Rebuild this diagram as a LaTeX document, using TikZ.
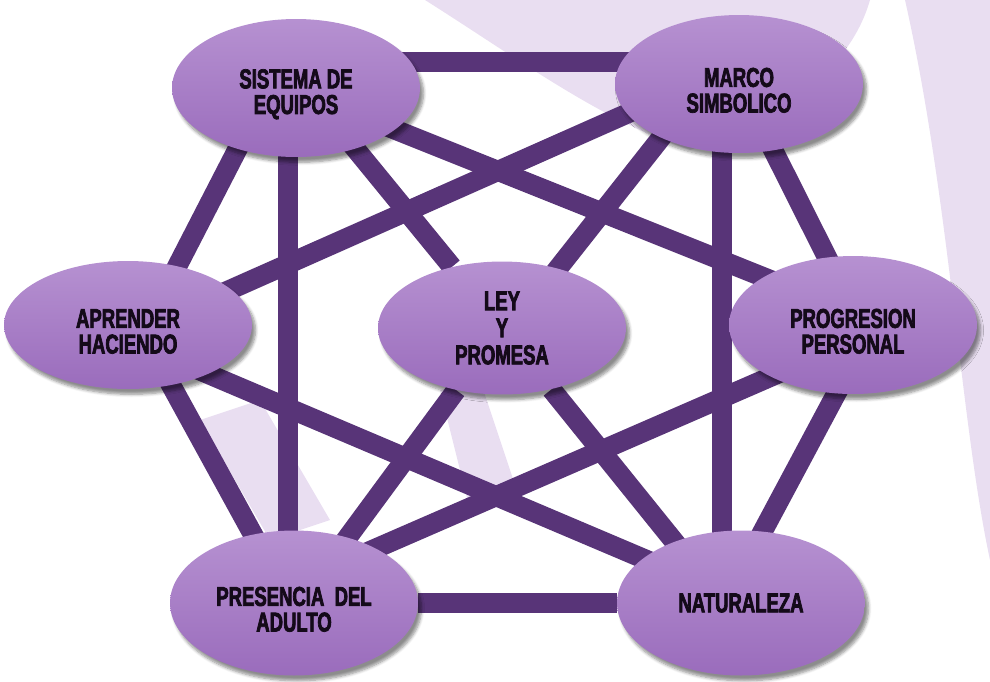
\documentclass[tikz,border=0pt]{standalone}
\usepackage{fontspec}
\newfontfamily\lblfont[FakeStretch=0.68, FakeBold=2.6]{Liberation Sans}
\usetikzlibrary{calc,shapes.geometric,shadows.blur}
\definecolor{lilaclaro}{RGB}{182,145,209}
\definecolor{lilacoscuro}{RGB}{154,108,188}
\definecolor{morado}{RGB}{88,52,120}
\definecolor{marca}{RGB}{233,222,241}
\definecolor{tinta}{RGB}{20,10,25}
\newcommand{\alto}{\rule{0pt}{18pt}}
\pgfdeclarelayer{background}
\pgfsetlayers{background,main}
\tikzset{
  eje/.style={ellipse, inner sep=0pt, minimum width=4.96cm, minimum height=2.76cm,
    top color=lilaclaro, bottom color=lilacoscuro, text=tinta,
    blur shadow={shadow xshift=2pt, shadow yshift=-3pt, shadow blur steps=6, shadow opacity=45},
    font=\lblfont\bfseries\fontsize{15.5}{14.6}\selectfont, align=center},
  enlace/.style={morado, line width=0.4cm},
}

\begin{document}
\begin{tikzpicture}[x=0.02cm, y=-0.02cm]
  \useasboundingbox (0,0) rectangle (990,681);
  % ---------------------------------------------------------------- the seven elements
  \node[eje] (sis) at (296,88) {\alto SISTEMA DE\\EQUIPOS};
  \node[eje] (mar) at (739,84) {\alto MARCO\\SIMBOLICO};
  \node[eje, minimum height=2.56cm] (apr) at (128,325) {\alto APRENDER\\HACIENDO};
  \node[eje, minimum height=2.66cm, font=\lblfont\bfseries\fontsize{15.5}{15.4}\selectfont] (ley) at (502,328) {LEY\\Y\\PROMESA};
  \node[eje] (pro) at (853,325) {\alto PROGRESION\\PERSONAL};
  \node[eje, minimum height=2.9cm] (pre) at (294,603) {\alto PRESENCIA~~DEL\\ADULTO};
  \node[eje, minimum height=2.9cm] (nat) at (741,603) {NATURALEZA};
  \begin{pgfonlayer}{background}
    % faint watermark behind the diagram
    \fill[marca] (425,0) -- (870,0) .. controls (850,70) and (780,120) .. (690,150)
      .. controls (600,120) and (520,60) .. cycle;
    \fill[marca] (905,0) -- (990,0) -- (990,560) .. controls (960,420) and (950,200) .. cycle;
    \fill[marca] (200,420) -- (260,400) -- (330,520) -- (270,540) -- cycle;
    \fill[marca] (440,390) -- (480,380) -- (520,500) -- (470,510) -- cycle;
    % ---------------------------------------------------------------- links
    \draw[enlace] ($(sis)+(0,-26)$) -- ($(mar)+(0,-22)$);
    \draw[enlace] (pre) -- (nat);
    \draw[enlace] ($(sis)+(-26,-2)$) -- ($(apr)+(20,-2)$);
    \draw[enlace] ($(sis)+(-8,0)$) -- ($(pre)+(-6,0)$);
    \draw[enlace] ($(sis)+(8,-2)$) -- (ley);
    \draw[enlace] ($(sis)+(0,2)$) -- ($(pro)+(0,-12)$);
    \draw[enlace] ($(mar)+(0,-20)$) -- ($(apr)+(0,10)$);
    \draw[enlace] ($(mar)+(-34,-2)$) -- ($(ley)+(9,0)$);
    \draw[enlace] ($(mar)+(-17,0)$) -- ($(nat)+(-19,0)$);
    \draw[enlace] ($(mar)+(0,-2)$) -- ($(pro)+(7,-2)$);
    \draw[enlace] ($(apr)+(9,-2)$) -- ($(pre)+(-4,-1)$);
    \draw[enlace] ($(apr)+(0,15)$) -- ($(nat)+(0,-3)$);
    \draw[enlace] ($(pro)+(0,16)$) -- ($(pre)+(0,-19)$);
    \draw[enlace] (ley) -- ($(pre)+(6,-1)$);
    \draw[enlace] (ley) -- ($(nat)+(-18,-1)$);
    \draw[enlace] ($(pro)+(21,-2)$) -- ($(nat)+(-16,-1)$);
  \end{pgfonlayer}
\end{tikzpicture}
\end{document}
